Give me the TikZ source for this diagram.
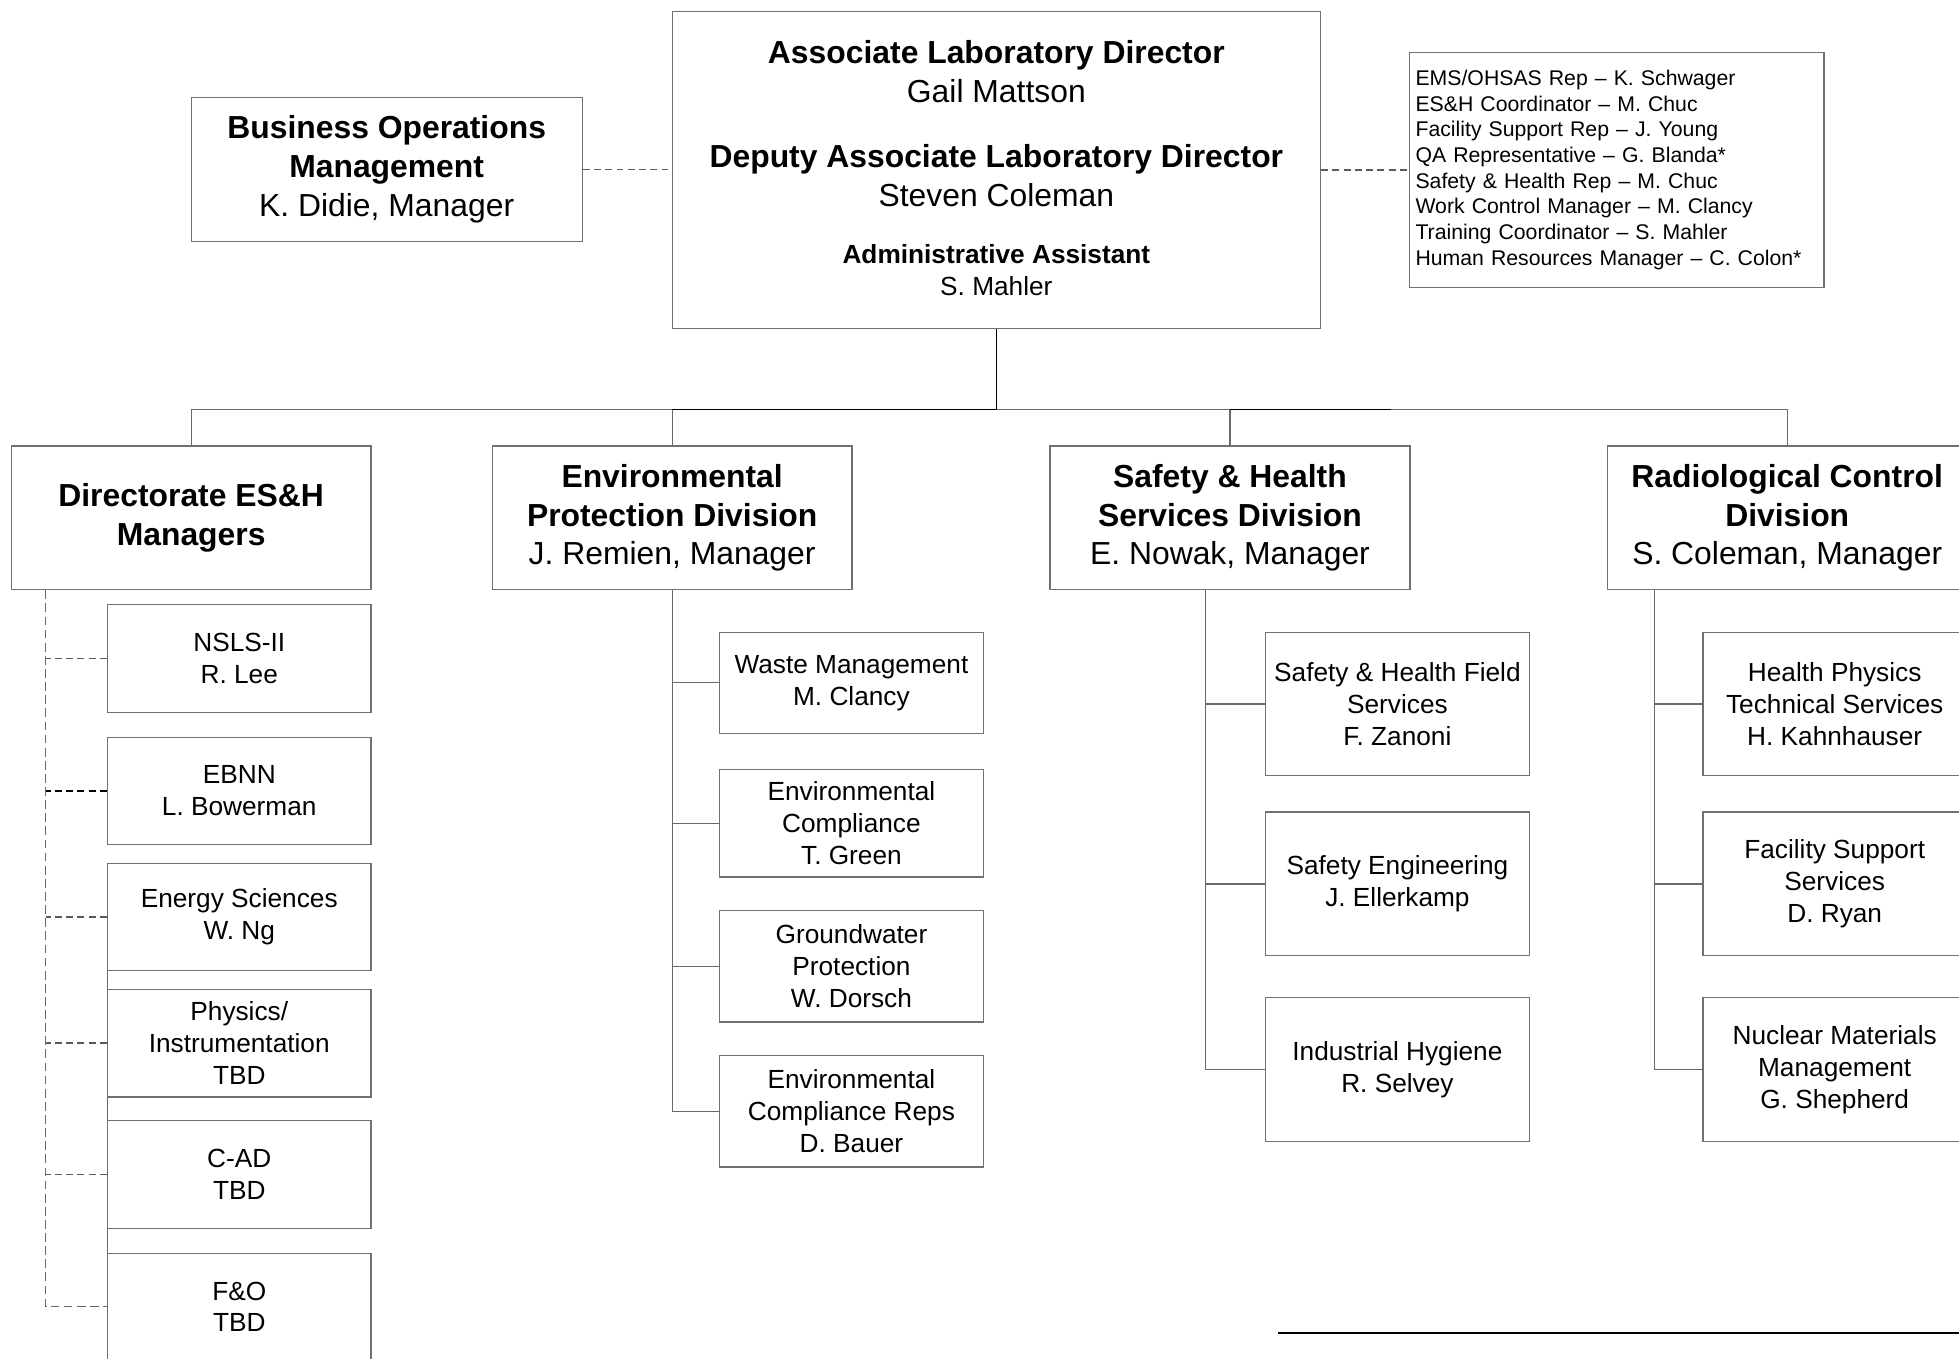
\documentclass[tikz,border=0pt]{standalone}
\usepackage{fontspec}
\setmainfont{Liberation Sans}
\usetikzlibrary{calc}
\definecolor{boxgray}{HTML}{707070}
\definecolor{linegray}{HTML}{6A6A6A}
\definecolor{dashgray}{HTML}{5A5A5A}
\newcommand{\bigf}{\fontsize{25.5}{31}\selectfont}
\newcommand{\midf}{\fontsize{21}{25.5}\selectfont}
\newcommand{\smallf}{\fontsize{17}{20.5}\selectfont}
\tikzset{
  box/.style={draw=boxgray, line width=1pt, inner sep=0pt, align=center, fill=white},
  lvltwo/.style={box, minimum width=288pt, minimum height=115pt, font=\bigf},
  leaf/.style={box, minimum width=211pt, font=\midf},
  conn/.style={draw=linegray, line width=1pt},
  dconn/.style={draw=dashgray, line width=1.2pt, dash pattern=on 5.5pt off 3.5pt},
  trunk/.style={draw=black, line width=1.4pt},
}
\begin{document}
\begin{tikzpicture}[x=1pt,y=-1pt]
\useasboundingbox (0,0) rectangle (1568,1087);
% top level
\node[box, minimum width=519pt, minimum height=254pt] (top) at (797.5,136) {};
\node[align=center, inner sep=0pt, font=\bigf] (toptext) at (797.5,134.5)
  {{\bfseries Associate Laboratory Director}\\ Gail Mattson\\[21pt]
   {\bfseries Deputy Associate Laboratory Director}\\ Steven Coleman\\[15pt]
   {\fontsize{21}{25.5}\selectfont\bfseries Administrative Assistant}\\[-6pt]
   {\fontsize{21}{25.5}\selectfont S. Mahler}};
\node[box, minimum width=313pt, minimum height=115pt, font=\bigf] (bo) at (309.5,135.5)
  {{\bfseries Business Operations}\\ {\bfseries Management}\\ K. Didie, Manager};
\node[box, minimum width=332pt, minimum height=188pt, text width=322pt, inner xsep=5pt, align=left, font=\smallf] (list) at (1294,136)
  {EMS/OHSAS Rep – K. Schwager\\
   ES\&H Coordinator – M. Chuc\\
   Facility Support Rep – J. Young\\
   QA Representative – G. Blanda*\\
   Safety \& Health Rep – M. Chuc\\
   Work Control Manager – M. Clancy\\
   Training Coordinator – S. Mahler\\
   Human Resources Manager – C. Colon*};
% level two
\node[lvltwo] (dir) at (153,414.5) {{\bfseries Directorate ES\&H}\\ {\bfseries Managers}};
\node[lvltwo] (env) at (538,414.5) {{\bfseries Environmental}\\ {\bfseries Protection Division}\\ J. Remien, Manager};
\node[lvltwo] (sh) at (984.5,414.5) {{\bfseries Safety \& Health}\\ {\bfseries Services Division}\\ E. Nowak, Manager};
\node[lvltwo] (rad) at (1430.5,414.5) {{\bfseries Radiological Control}\\ {\bfseries Division}\\ S. Coleman, Manager};
% directorate children
\draw[conn] (86,777) -- (86,1003);
\node[leaf, minimum height=86pt] (nsls) at (191.5,527) {NSLS-II\\ R. Lee};
\node[leaf, minimum height=86pt] (ebnn) at (191.5,633) {EBNN\\ L. Bowerman};
\node[leaf, minimum height=86pt] (ensci) at (191.5,734) {Energy Sciences\\ W. Ng};
\node[leaf, minimum height=86pt] (phys) at (191.5,835) {Physics/\\ Instrumentation\\ TBD};
\node[leaf, minimum height=86pt] (cad) at (191.5,940) {C-AD\\ TBD};
\node[leaf, minimum height=86pt] (fo) at (191.5,1046) {F\&O\\ TBD};
% environmental children
\node[leaf, minimum height=81pt] (waste) at (681.5,546.5) {Waste Management\\ M. Clancy};
\node[leaf, minimum height=86pt] (envc) at (681.5,659) {Environmental\\ Compliance\\ T. Green};
\node[leaf, minimum height=89pt] (gw) at (681.5,773.5) {Groundwater\\ Protection\\ W. Dorsch};
\node[leaf, minimum height=89pt] (ecr) at (681.5,889.5) {Environmental\\ Compliance Reps\\ D. Bauer};
% safety children
\node[leaf, minimum height=115pt] (shf) at (1118.5,563.5) {Safety \& Health Field\\ Services\\ F. Zanoni};
\node[leaf, minimum height=115pt] (se) at (1118.5,707.5) {Safety Engineering\\ J. Ellerkamp};
\node[leaf, minimum height=115pt] (ih) at (1118.5,856) {Industrial Hygiene\\ R. Selvey};
% radiological children
\node[leaf, minimum height=115pt] (hp) at (1468.5,563.5) {Health Physics\\ Technical Services\\ H. Kahnhauser};
\node[leaf, minimum height=115pt] (fss) at (1468.5,707.5) {Facility Support\\ Services\\ D. Ryan};
\node[leaf, minimum height=115pt] (nmm) at (1468.5,856) {Nuclear Materials\\ Management\\ G. Shepherd};
% staff connectors
\draw[dconn] (bo.east) -- (top.west |- bo.east);
\draw[dconn] (top.east) -- (list.west |- top.east);
% main tree
\coordinate (hub) at (top.south |- 0,328);
\draw[conn] (dir.north) |- (rad.north |- hub) -- (rad.north);
\draw[conn] (env.north) -- (env.north |- hub);
\draw[conn] (sh.north) -- (sh.north |- hub);
\coordinate (hubr) at ($(sh.north |- hub)+(128.5,0)$);
\draw[draw=black, line width=1pt] (env.north |- hub) -- (hub);
\draw[draw=black, line width=1pt] (sh.north |- hub) -- (hubr);
\draw[trunk] (top.south) -- (hub);
% directorate dashed tree
\coordinate (dtop) at ($(dir.south west)+(28,0)$);
\draw[dconn, draw=linegray, line width=1pt, dash pattern=on 7pt off 3.5pt] (dtop) |- (fo.west);
\foreach \n in {nsls,ensci,phys,cad}{\draw[dconn] (\n.west) -- (\n.west -| dtop);}
\draw[dconn, draw=black] (ebnn.west) -- (ebnn.west -| dtop);
% environmental tree
\draw[conn] (env.south) |- (ecr.west);
\foreach \n in {waste,envc,gw}{\draw[conn] (\n.west) -- (\n.west -| env.south);}
% safety tree
\coordinate (shtop) at ($(sh.south)+(-19.5,0)$);
\draw[conn] (shtop) |- (ih.west);
\foreach \n in {shf,se}{\draw[conn] (\n.west) -- (\n.west -| shtop);}
% radiological tree
\coordinate (radtop) at ($(rad.south west)+(38,0)$);
\draw[conn] (radtop) |- (nmm.west);
\foreach \n in {hp,fss}{\draw[conn] (\n.west) -- (\n.west -| radtop);}
% signature line
\draw[draw=black, line width=1.3pt] (1023,1067) -- (1568,1067);
\end{tikzpicture}
\end{document}
